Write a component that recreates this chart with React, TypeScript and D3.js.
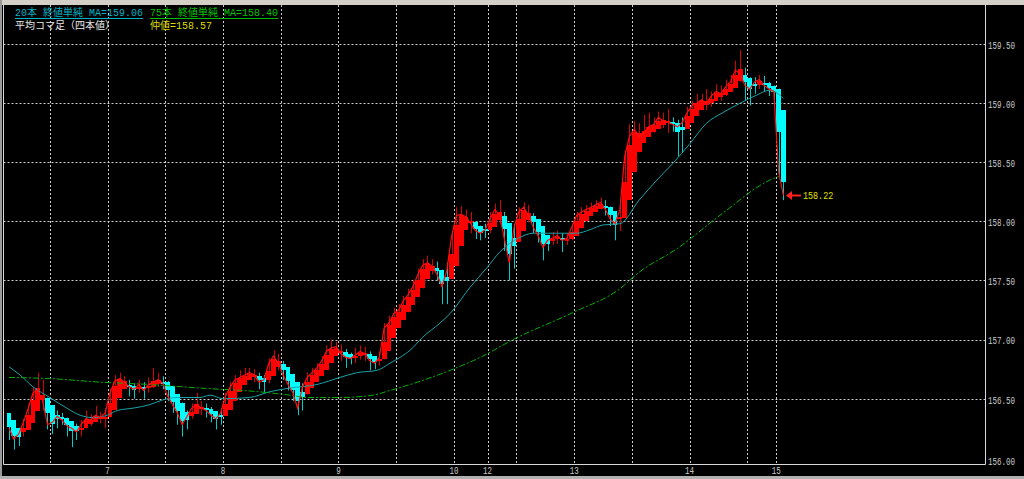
import React from 'react';
import * as d3 from 'd3';

const W = 1024;
const H = 479;

// real close per bar (thin red line)
const closes = [
  156.25, 156.16, 156.20, 156.30, 156.42, 156.55, 156.57, 156.48, 156.28, 156.30,
  156.35, 156.32, 156.27, 156.25, 156.22, 156.28, 156.33, 156.32, 156.36, 156.34,
  156.38, 156.55, 156.65, 156.67, 156.64, 156.60, 156.58, 156.62, 156.57, 156.62,
  156.64, 156.66, 156.63, 156.52, 156.45, 156.38, 156.28, 156.35, 156.42, 156.45,
  156.42, 156.40, 156.36, 156.33, 156.38, 156.52, 156.60, 156.66, 156.68, 156.70,
  156.72, 156.70, 156.64, 156.66, 156.80, 156.86, 156.80, 156.70, 156.62, 156.55,
  156.42, 156.60, 156.68, 156.72, 156.76, 156.82, 156.90, 156.93, 156.94, 156.88,
  156.85, 156.84, 156.87, 156.90, 156.88, 156.82, 156.80, 156.85, 157.10, 157.14,
  157.22, 157.25, 157.33, 157.38, 157.45, 157.55, 157.63, 157.65, 157.62, 157.55,
  157.45, 157.58, 157.87, 158.05, 158.06, 158.04, 157.98, 157.92, 157.90, 157.93,
  158.02, 158.10, 158.05, 157.85, 157.65, 157.95, 158.08, 158.12, 158.05, 157.95,
  157.88, 157.78, 157.84, 157.86, 157.88, 157.84, 157.86, 157.95, 158.05, 158.08,
  158.10, 158.12, 158.14, 158.16, 158.10, 158.02, 157.98, 158.10, 158.55, 158.72,
  158.78, 158.72, 158.75, 158.80, 158.82, 158.88, 158.85, 158.84, 158.82, 158.80,
  158.84, 158.92, 158.98, 159.00, 159.03, 159.00, 159.06, 159.10, 159.08, 159.14,
  159.18, 159.28, 159.25, 159.15, 159.12, 159.18, 159.20, 159.15, 159.12, 159.10,
  158.42, 158.22,
];

const highs = [
  156.34, 156.27, 156.24, 156.33, 156.45, 156.60, 156.72, 156.66, 156.50, 156.36,
  156.40, 156.38, 156.34, 156.31, 156.29, 156.32, 156.40, 156.37, 156.44, 156.39,
  156.42, 156.58, 156.70, 156.72, 156.69, 156.66, 156.63, 156.66, 156.64, 156.68,
  156.76, 156.72, 156.69, 156.65, 156.55, 156.47, 156.40, 156.40, 156.46, 156.55,
  156.48, 156.46, 156.43, 156.38, 156.42, 156.55, 156.64, 156.70, 156.74, 156.76,
  156.76, 156.75, 156.72, 156.70, 156.84, 156.91, 156.88, 156.82, 156.72, 156.64,
  156.58, 156.63, 156.72, 156.76, 156.80, 156.86, 156.95, 157.00, 156.98, 156.96,
  156.92, 156.89, 156.93, 156.95, 156.94, 156.90, 156.86, 156.90, 157.14, 157.20,
  157.27, 157.30, 157.37, 157.43, 157.50, 157.60, 157.68, 157.71, 157.68, 157.66,
  157.58, 157.65, 157.90, 158.12, 158.13, 158.10, 158.08, 158.00, 157.96, 157.98,
  158.08, 158.15, 158.18, 158.08, 157.90, 157.98, 158.12, 158.16, 158.14, 158.07,
  157.98, 157.90, 157.88, 157.91, 157.92, 157.90, 157.90, 157.98, 158.08, 158.12,
  158.14, 158.16, 158.18, 158.20, 158.18, 158.12, 158.05, 158.14, 158.60, 158.82,
  158.85, 158.83, 158.90, 158.92, 158.88, 158.93, 158.92, 158.95, 158.88, 158.86,
  158.88, 158.97, 159.02, 159.08, 159.08, 159.12, 159.10, 159.16, 159.15, 159.20,
  159.24, 159.36, 159.45, 159.30, 159.22, 159.22, 159.24, 159.23, 159.18, 159.15,
  159.12, 158.50,
];

const lows = [
  156.15, 156.07, 156.10, 156.18, 156.28, 156.40, 156.52, 156.40, 156.24, 156.20,
  156.25, 156.28, 156.18, 156.09, 156.15, 156.18, 156.26, 156.27, 156.30, 156.29,
  156.25, 156.36, 156.53, 156.61, 156.59, 156.52, 156.50, 156.55, 156.50, 156.55,
  156.59, 156.60, 156.58, 156.48, 156.38, 156.28, 156.18, 156.24, 156.33, 156.39,
  156.36, 156.34, 156.30, 156.24, 156.28, 156.36, 156.50, 156.58, 156.62, 156.64,
  156.66, 156.64, 156.58, 156.55, 156.63, 156.77, 156.74, 156.66, 156.57, 156.48,
  156.36, 156.40, 156.56, 156.64, 156.69, 156.73, 156.80, 156.86, 156.88, 156.82,
  156.76, 156.79, 156.80, 156.83, 156.82, 156.74, 156.75, 156.78, 156.84, 157.05,
  157.12, 157.18, 157.22, 157.30, 157.36, 157.43, 157.52, 157.58, 157.55, 157.50,
  157.30, 157.30, 157.55, 157.85, 157.98, 157.96, 157.90, 157.85, 157.84, 157.86,
  157.90, 157.99, 157.98, 157.75, 157.50, 157.60, 157.92, 158.03, 157.99, 157.90,
  157.82, 157.67, 157.75, 157.80, 157.81, 157.74, 157.80, 157.84, 157.93, 158.01,
  158.04, 158.06, 158.09, 158.10, 158.05, 157.96, 157.84, 157.92, 158.08, 158.50,
  158.66, 158.66, 158.68, 158.72, 158.75, 158.78, 158.79, 158.75, 158.76, 158.55,
  158.58, 158.82, 158.88, 158.93, 158.96, 158.94, 158.97, 159.02, 159.02, 159.06,
  159.10, 159.15, 159.18, 159.02, 158.98, 159.08, 159.12, 159.10, 159.06, 159.02,
  158.38, 158.18,
];

const firstOpen = 156.30;
const haOpenStart = 156.38;

// 20-bar MA (bar index -> price)
const ma20Idx = [0, 2.3, 5, 8.5, 12, 14.8, 17.5, 20.4, 22.5, 25.8, 29.3, 32, 35, 39.7, 41.8, 44.5, 50, 54.3, 58.4, 64, 68.8, 72.3, 76.5, 79.2, 81.3, 83.4, 86, 89.6, 91.7, 95.8, 99.4, 102, 106, 109, 114, 118, 120.8, 123.5, 127, 131, 134.7, 138, 141.6, 145, 148.4, 152, 155.5, 158.2, 161];
const ma20Val = [156.77, 156.70, 156.60, 156.51, 156.42, 156.36, 156.34, 156.36, 156.40, 156.42, 156.45, 156.49, 156.51, 156.51, 156.53, 156.50, 156.51, 156.56, 156.59, 156.62, 156.68, 156.72, 156.74, 156.80, 156.85, 156.91, 157.02, 157.14, 157.22, 157.44, 157.61, 157.74, 157.86, 157.90, 157.90, 157.90, 157.93, 157.97, 157.98, 158.18, 158.35, 158.49, 158.66, 158.83, 158.92, 159.00, 159.07, 159.11, 159.04];

// 75-bar MA
const ma75Idx = [0, 8.5, 19, 29.3, 39.7, 51.6, 58.4, 62, 68.8, 75.7, 79.2, 83.4, 91.7, 98, 104.8, 117.3, 127, 131, 138.9, 148.4, 158.2, 160];
const ma75Val = [156.68, 156.67, 156.64, 156.62, 156.59, 156.56, 156.53, 156.51, 156.51, 156.53, 156.57, 156.62, 156.74, 156.85, 157.00, 157.23, 157.43, 157.57, 157.77, 158.07, 158.35, 158.38];

const priceTicks = [156.0, 156.5, 157.0, 157.5, 158.0, 158.5, 159.0, 159.5];
const priceTickLabels = ['156.00', '156.50', '157.00', '157.50', '158.00', '158.50', '159.00', '159.50'];
const gridBars = [8.5, 20.5, 32.5, 44.5, 56.5, 68.5, 80.5, 92.5, 99.5, 105.5, 117.5, 129.5, 141.5, 153.5, 159.5];
const dayLabels = ['7', '8', '9', '10', '12', '13', '14', '15'];
const dayLabelBars = [20.5, 44.5, 68.5, 92.5, 99.5, 117.5, 141.5, 159.5];
const lastPrice = 158.22;

const legendMa20 = '20本 終値単純 MA=159.06';
const legendMa75 = '75本 終値単純 MA=158.40';
const legendType = '平均コマ足（四本値）';
const legendMid = '仲値=158.57';

const UP = '#ff0000';
const DOWN = '#00ffff';

export default function App() {
  const n = closes.length;
  const x = d3.scaleLinear().domain([0, 161]).range([9, 9 + 161 * 4.81]);
  const y = d3.scaleLinear().domain([156, 159.5]).range([457.8, 44.1]);

  const opens = closes.map((c, i) => (i === 0 ? firstOpen : closes[i - 1]));
  const ha: { o: number; c: number; h: number; l: number }[] = [];
  for (let i = 0; i < n; i++) {
    const hc = (opens[i] + highs[i] + lows[i] + closes[i]) / 4;
    const ho = i === 0 ? haOpenStart : (ha[i - 1].o + ha[i - 1].c) / 2;
    ha.push({ o: ho, c: hc, h: Math.max(highs[i], ho, hc), l: Math.min(lows[i], ho, hc) });
  }

  const line = d3.line<number>().x((_, i) => x(i)).y((d) => y(d));
  const ma20Line = d3.line<number>().x((_, i) => x(ma20Idx[i])).y((d) => y(d)).curve(d3.curveMonotoneX);
  const ma75Line = d3.line<number>().x((_, i) => x(ma75Idx[i])).y((d) => y(d)).curve(d3.curveMonotoneX);

  const plotL = 3.5, plotR = 985.5, plotT = 5, plotB = 464.5;
  const mono = '"Liberation Mono", "DejaVu Sans Mono", "Noto Sans CJK JP", monospace';
  const half = (x(1) - x(0)) / 2;

  return (
    <svg width={W} height={H} style={{ position: 'absolute', left: 0, top: 0, display: 'block', background: '#000' }}>
      <rect x={0} y={0} width={W} height={H} fill="#000" />
      <rect x={0} y={0} width={W} height={5} fill="#d4d0c8" />
      <rect x={0} y={0} width={2} height={H} fill="#9a9a9a" />
      <rect x={0} y={476} width={W} height={3} fill="#b0b0b0" />

      {/* grid */}
      <g stroke="#cfcfcf" strokeWidth={1} strokeDasharray="2,2">
        {priceTicks.slice(1).map((p) => (
          <line key={'h' + p} x1={plotL} x2={plotR} y1={Math.round(y(p)) + 0.5} y2={Math.round(y(p)) + 0.5} />
        ))}
        {gridBars.map((b) => (
          <line key={'v' + b} x1={Math.round(x(b)) + 0.5} x2={Math.round(x(b)) + 0.5} y1={plotT} y2={plotB} />
        ))}
      </g>

      {/* candles */}
      <g>
        {ha.map((d, i) => {
          const up = d.c >= d.o;
          const col = up ? UP : DOWN;
          const cx = Math.round(x(i));
          const left = Math.round(x(i) - half);
          const right = Math.round(x(i) + half);
          const top = Math.round(y(Math.max(d.o, d.c)));
          const bot = Math.round(y(Math.min(d.o, d.c)));
          return (
            <g key={i}>
              <line x1={cx + 0.5} x2={cx + 0.5} y1={y(d.h)} y2={y(d.l)} stroke={up ? '#d80000' : '#00cccc'} strokeWidth={1} />
              <rect x={left} y={top} width={Math.max(1, right - left)} height={Math.max(2, bot - top)} fill={col} />
            </g>
          );
        })}
      </g>

      {/* moving averages */}
      <path d={ma20Line(ma20Val) || ''} fill="none" stroke="#1aa3a8" strokeWidth={1} />
      <path d={ma75Line(ma75Val) || ''} fill="none" stroke="#00b000" strokeWidth={1} strokeDasharray="6,2,2,2" />

      {/* close line */}
      <path d={line(closes) || ''} fill="none" stroke="#ff1010" strokeWidth={1.2} />

      {/* last price marker */}
      <g>
        <line x1={790} x2={801} y1={Math.round(y(lastPrice)) + 0.5} y2={Math.round(y(lastPrice)) + 0.5} stroke="#ff2020" strokeWidth={2} />
        <path d={`M786,${Math.round(y(lastPrice)) + 0.5} l6,-4.5 l0,9 z`} fill="#ff2020" />
        <g transform={`translate(803, ${y(lastPrice) + 3.5}) scale(0.8, 1)`}>
          <text x={0} y={0} fontFamily={mono} fontSize={10.5} fill="#e0e000">{lastPrice.toFixed(2)}</text>
        </g>
      </g>

      {/* frame */}
      <g stroke="#d8d8d8" strokeWidth={1} fill="none">
        <line x1={plotL} x2={plotL} y1={plotT} y2={plotB} />
        <line x1={plotR} x2={plotR} y1={plotT} y2={plotB} />
        <line x1={plotL} x2={plotR} y1={plotB} y2={plotB} />
      </g>

      {/* price axis */}
      <g>
        {priceTicks.map((p, i) => (
          <g key={'t' + p} transform={`translate(988, ${(i === 0 ? 461 : y(p) + 1) + 3.8}) scale(0.72, 1)`}>
            <text x={0} y={0} fontFamily={mono} fontSize={10.5} fill="#c8c8c8">{priceTickLabels[i]}</text>
          </g>
        ))}
      </g>

      {/* day axis */}
      <g>
        {dayLabels.map((l, i) => (
          <g key={'d' + l} transform={`translate(${x(dayLabelBars[i])}, 474) scale(0.72, 1)`}>
            <text x={0} y={0} textAnchor="middle" fontFamily={mono} fontSize={10.5} fill="#c8c8c8">{l}</text>
          </g>
        ))}
      </g>

      {/* legend */}
      <g fontFamily={mono} fontSize={10}>
        <text x={15} y={16} fill="#00b0c4">{legendMa20}</text>
        <line x1={15} x2={143} y1={18.5} y2={18.5} stroke="#00b0c4" strokeWidth={1} />
        <text x={150} y={16} fill="#00c000">{legendMa75}</text>
        <line x1={150} x2={278} y1={18.5} y2={18.5} stroke="#00c000" strokeWidth={1} />
        <text x={15} y={29} fill="#e6e6e6">{legendType}</text>
        <text x={150} y={29} fill="#dcdc00">{legendMid}</text>
      </g>
    </svg>
  );
}
